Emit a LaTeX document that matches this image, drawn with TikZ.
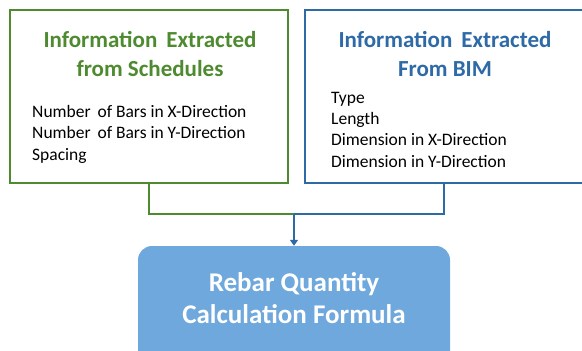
\documentclass[tikz,border=0pt]{standalone}
\usepackage{fontspec}
\setmainfont{Carlito}
\usepackage{tikz}
\usetikzlibrary{arrows.meta,positioning}
\definecolor{schedgreen}{HTML}{4E8A2F}
\definecolor{bimblue}{HTML}{2E6AA6}
\definecolor{formulablue}{HTML}{6FA8DC}

\begin{document}
\begin{tikzpicture}[x=1pt, y=-1pt, infobox/.style={rectangle, draw, line width=1.6pt, minimum width=278pt, minimum height=173pt}, boxtitle/.style={anchor=base, align=center, font=\fontsize{23}{29}\selectfont\bfseries}, itemlist/.style={anchor=base west, align=left, inner sep=0pt, font=\fontsize{17.5}{21.3}\selectfont}]
  \useasboundingbox (0,0) rectangle (582,351);
  \node[infobox, draw=schedgreen] (schedbox) at (149,96.5) {};
  \node[infobox, draw=bimblue] (bimbox) at (444,96.5) {};
  \node[boxtitle, text=schedgreen] (schedtitle) at (150,76) {Information\, Extracted\\from Schedules};
  \node[boxtitle, text=bimblue] (bimtitle) at (445,76) {Information\, Extracted\\From BIM};
  \node[itemlist] (schedlist) at (32,160) {Number\, of Bars in X-Direction\\Number\, of Bars in Y-Direction\\Spacing};
  \node[itemlist] (bimlist) at (331,167) {Type\\Length\\Dimension in X-Direction\\Dimension in Y-Direction};
  \node[rectangle, rounded corners=14pt, fill=formulablue, minimum width=312pt, minimum height=120pt] (formula) at (294,306) {};
  \node[anchor=base, align=center, text=white, font=\fontsize{27}{32}\selectfont\bfseries] (formulatext) at (294,323.5) {Rebar Quantity\\Calculation Formula};
  \coordinate (join) at (294,214);
  \draw[schedgreen, line width=1.6pt] (schedbox.south) |- (join);
  \draw[bimblue, line width=1.6pt] (bimbox.south) |- (join);
  \draw[bimblue, line width=1.6pt, -{Triangle[width=8pt,length=6pt]}] (join) -- (formula.north);
\end{tikzpicture}
\end{document}
